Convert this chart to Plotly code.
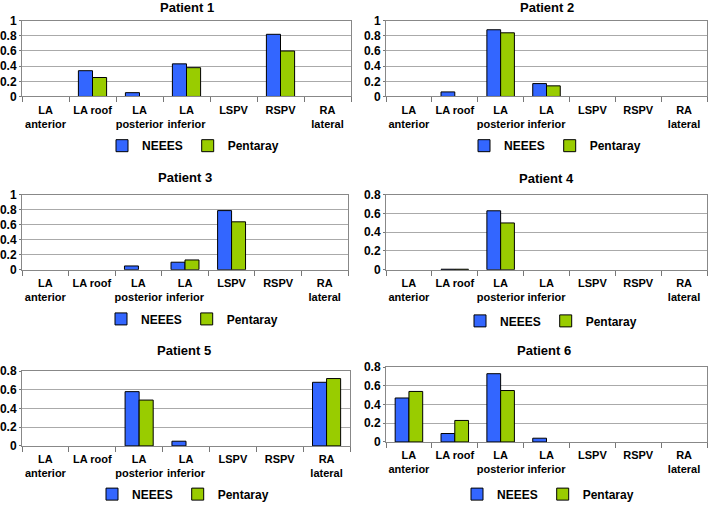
import plotly.graph_objects as go

# -----------------------------
# Data
# -----------------------------
regioes = ["LA<br>anterior", "LA roof", "LA<br>posterior", "LA<br>inferior",
           "LSPV", "RSPV", "RA<br>lateral"]

neees_p1 = [0, 0.34, 0.05, 0.43, 0, 0.82, 0]
penta_p1 = [0, 0.25, 0, 0.38, 0, 0.60, 0]
neees_p2 = [0, 0.06, 0.88, 0.17, 0, 0, 0]
penta_p2 = [0, 0, 0.84, 0.14, 0, 0, 0]
neees_p3 = [0, 0, 0.05, 0.10, 0.79, 0, 0]
penta_p3 = [0, 0, 0, 0.13, 0.64, 0, 0]
neees_p4 = [0, 0.005, 0.63, 0, 0, 0, 0]
penta_p4 = [0, 0.005, 0.50, 0, 0, 0, 0]
neees_p5 = [0, 0, 0.58, 0.05, 0, 0, 0.68]
penta_p5 = [0, 0, 0.49, 0, 0, 0, 0.72]
neees_p6 = [0.47, 0.09, 0.73, 0.04, 0, 0, 0]
penta_p6 = [0.54, 0.23, 0.55, 0, 0, 0, 0]

titulos = ["Patient 1", "Patient 2", "Patient 3", "Patient 4", "Patient 5", "Patient 6"]
y_max = [1, 1, 1, 0.8, 0.8, 0.8]

series = [(neees_p1, penta_p1), (neees_p2, penta_p2), (neees_p3, penta_p3),
          (neees_p4, penta_p4), (neees_p5, penta_p5), (neees_p6, penta_p6)]

# -----------------------------
# Layout (pixels)
# -----------------------------
W, H = 709, 509
# x0, x1, ytop, ybottom of each plot area
paineis = [(22, 351, 21, 98), (386, 707, 21, 98),
           (22, 348, 198, 274), (386, 707, 198, 274),
           (22, 350, 377, 453), (386, 707, 373, 449)]
titulo_pos = [(187, 8), (547, 8), (185, 180), (546, 181), (184, 356), (544, 356)]
legenda_pos = [(193, 148), (555, 148), (192, 324), (551, 326), (183, 502), (548, 502)]

AZUL = "#3366FF"
VERDE = "#99CC00"
FONTE = "Liberation Sans, Arial, sans-serif"


def sem_zero(vals):
    return [v if v != 0 else None for v in vals]


fig = go.Figure()
layout = {}
anotacoes = []

for i, (neees, penta) in enumerate(series):
    n = i + 1
    xa = "x" if n == 1 else f"x{n}"
    ya = "y" if n == 1 else f"y{n}"
    leg = "legend" if n == 1 else f"legend{n}"
    for nome, vals, cor in [("NEEES", neees, AZUL), ("Pentaray", penta, VERDE)]:
        fig.add_trace(go.Bar(
            x=regioes, y=sem_zero(vals), name=nome,
            marker=dict(color=cor, line=dict(color="black", width=1)),
            xaxis=xa, yaxis=ya, legend=leg,
        ))

    x0, x1, yt, yb = paineis[i]
    eixo = lambda s: s if n == 1 else f"{s}{n}"
    layout[eixo("xaxis")] = dict(
        domain=[x0 / W, x1 / W], anchor=ya, type="category", tickangle=0,
        automargin=False, ticklabelstandoff=3,
        tickson="boundaries", ticks="outside", ticklen=5, tickcolor="#777",
        showline=True, linecolor="#888", mirror=True, showgrid=False,
        tickfont=dict(family=FONTE, size=11, color="black", weight="bold"),
    )
    layout[eixo("yaxis")] = dict(
        domain=[1 - yb / H, 1 - yt / H], anchor=xa, range=[0, y_max[i]], dtick=0.2,
        automargin=False,
        showline=True, linecolor="#888", mirror=True, showgrid=True,
        gridcolor="#aaa", ticks="outside", ticklen=2, tickcolor="#777",
        zeroline=False,
        tickfont=dict(family=FONTE, size=12, color="black", weight="bold"),
    )
    lx, ly = legenda_pos[i]
    layout[leg] = dict(
        orientation="h", x=lx / W, y=1 - ly / H, xanchor="center", yanchor="middle",
        font=dict(family=FONTE, size=12, color="black", weight="bold"),
        itemwidth=30, tracegroupgap=0, bgcolor="rgba(0,0,0,0)",
    )
    tx, ty = titulo_pos[i]
    anotacoes.append(dict(
        text=f"<b>{titulos[i]}</b>", x=tx / W, y=1 - ty / H, xref="paper", yref="paper",
        showarrow=False, font=dict(family=FONTE, size=13, color="black"),
        xanchor="center", yanchor="middle",
    ))

fig.update_layout(
    width=W, height=H, margin=dict(l=0, r=0, t=0, b=0),
    paper_bgcolor="white", plot_bgcolor="white",
    barmode="group", bargap=0.4, bargroupgap=0,
    annotations=anotacoes, **layout,
)

# sem margem do body, para a figura ocupar a janela toda
fig.write_html("out.html", config={"displayModeBar": False},
               post_script="document.body.style.margin='0';")
